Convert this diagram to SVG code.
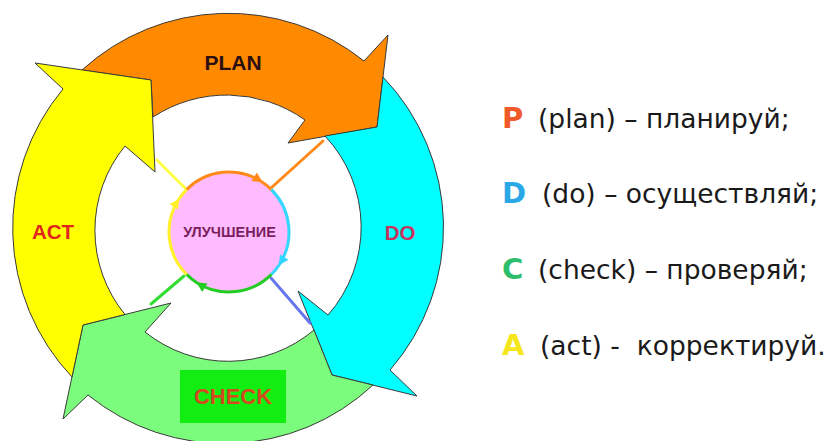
<svg xmlns="http://www.w3.org/2000/svg" width="828" height="441" viewBox="0 0 828 441">
<style>
.arr{stroke:#3a3a3a;stroke-width:1;stroke-linejoin:miter}
.lbl{font-family:"Liberation Sans",Arial,sans-serif;font-weight:bold;text-anchor:middle}
.lg{font-family:"DejaVu Sans","Noto Sans",sans-serif;font-size:26.5px;fill:#1a1a1a}
.lgk{font-family:"DejaVu Sans","Noto Sans",sans-serif;font-size:29px;font-weight:bold}
.ring{fill:none;stroke-width:3}
.ray{stroke-width:3;stroke-linecap:round}
</style>
<defs>
<marker id="mo" viewBox="0 0 10 10" refX="9" refY="5" markerWidth="12" markerHeight="10" markerUnits="userSpaceOnUse" orient="auto"><path d="M0,0 L10,5 L0,10 Z" fill="#FF8A1A"/></marker>
<marker id="mc" viewBox="0 0 10 10" refX="9" refY="5" markerWidth="12" markerHeight="10" markerUnits="userSpaceOnUse" orient="auto"><path d="M0,0 L10,5 L0,10 Z" fill="#33D6FF"/></marker>
<marker id="mg" viewBox="0 0 10 10" refX="9" refY="5" markerWidth="12" markerHeight="10" markerUnits="userSpaceOnUse" orient="auto"><path d="M0,0 L10,5 L0,10 Z" fill="#22CC22"/></marker>
<marker id="my" viewBox="0 0 10 10" refX="9" refY="5" markerWidth="12" markerHeight="10" markerUnits="userSpaceOnUse" orient="auto"><path d="M0,0 L10,5 L0,10 Z" fill="#FFF02A"/></marker>
</defs>
<rect width="828" height="441" fill="#ffffff"/>

<g id="plan">
<path class="arr" fill="#FF8A00" d="M82,70 A217,217 0 0 1 364,61 L388,35 L377,127 L288,143 L305,120 A135,135 0 0 0 153,117 L151,80 Z"/>
<text class="lbl" x="233" y="70" font-size="21" fill="#2B0F10">PLAN</text>
</g>
<g id="do">
<path class="arr" fill="#00FFFF" d="M383,77 A217,217 0 0 1 390,370 L417,396 L332,375 L298,291 L328,315 A133,133 0 0 0 325,136 L377,127 Z"/>
<text class="lbl" x="400" y="240" font-size="20.5" fill="#C8335E">DO</text>
</g>
<g id="check">
<path class="arr" fill="#7CFC7C" stroke="#4a7a4a" d="M373,385 A217,217 0 0 1 88,395 L63,419 L83,325 L171,303 L145,332 A133,133 0 0 0 314,330 L332,375 Z"/>
<rect x="180" y="370" width="106" height="53" fill="#12EE12"/>
<text class="lbl" x="233" y="404" font-size="22" fill="#D4491E">CHECK</text>
</g>
<g id="act">
<path class="arr" fill="#FFFF00" d="M72,377 A217,217 0 0 1 63,89 L35,63 L151,80 L155,172 L125,146 A133,133 0 0 0 125,314.5 L83,325 Z"/>
<text class="lbl" x="53" y="239" font-size="20.5" fill="#E0261C">ACT</text>
</g>

<g id="connectors">
<line class="ray" x1="157" y1="160" x2="186" y2="189" stroke="#FFFF44"/>
<line class="ray" x1="323" y1="141" x2="271" y2="188" stroke="#FF8A1A"/>
<line class="ray" x1="151" y1="304" x2="184" y2="276" stroke="#33DD33"/>
<line class="ray" x1="271" y1="278" x2="310" y2="323" stroke="#6677EE"/>
</g>

<g id="improvement">
<circle cx="229" cy="232" r="59" fill="#FFBBFF"/>
<path class="ring" stroke="#FF8A1A" d="M186.6,189.6 A60,60 0 0 1 261.7,181.7" marker-end="url(#mo)"/>
<path class="ring" stroke="#FF8A1A" d="M261.7,181.7 A60,60 0 0 1 271.4,189.6"/>
<path class="ring" stroke="#33D6FF" d="M271.4,189.6 A60,60 0 0 1 279.3,264.7" marker-end="url(#mc)"/>
<path class="ring" stroke="#33D6FF" d="M279.3,264.7 A60,60 0 0 1 271.4,274.4"/>
<path class="ring" stroke="#22CC22" d="M271.4,274.4 A60,60 0 0 1 197.2,282.9" marker-end="url(#mg)"/>
<path class="ring" stroke="#22CC22" d="M197.2,282.9 A60,60 0 0 1 186.6,274.4"/>
<path class="ring" stroke="#FFF02A" d="M186.6,274.4 A60,60 0 0 1 178.7,199.3" marker-end="url(#my)"/>
<path class="ring" stroke="#FFF02A" d="M178.7,199.3 A60,60 0 0 1 186.6,189.6"/>
<text class="lbl" x="229.5" y="237" font-size="14.5" fill="#7A1F5C">УЛУЧШЕНИЕ</text>
</g>

<g id="legend">
<text x="502" y="128"><tspan class="lgk" fill="#F05A28">P</tspan><tspan class="lg" x="538">(plan) – планируй;</tspan></text>
<text x="502" y="203"><tspan class="lgk" fill="#29A8E8">D</tspan><tspan class="lg" x="542">(do) – осуществляй;</tspan></text>
<text x="502" y="279"><tspan class="lgk" fill="#2DBE6C">C</tspan><tspan class="lg" x="538">(check) – проверяй;</tspan></text>
<text x="502" y="355" xml:space="preserve"><tspan class="lgk" fill="#F5E51B">A</tspan><tspan class="lg" x="540">(act) -  корректируй.</tspan></text>
</g>
</svg>
